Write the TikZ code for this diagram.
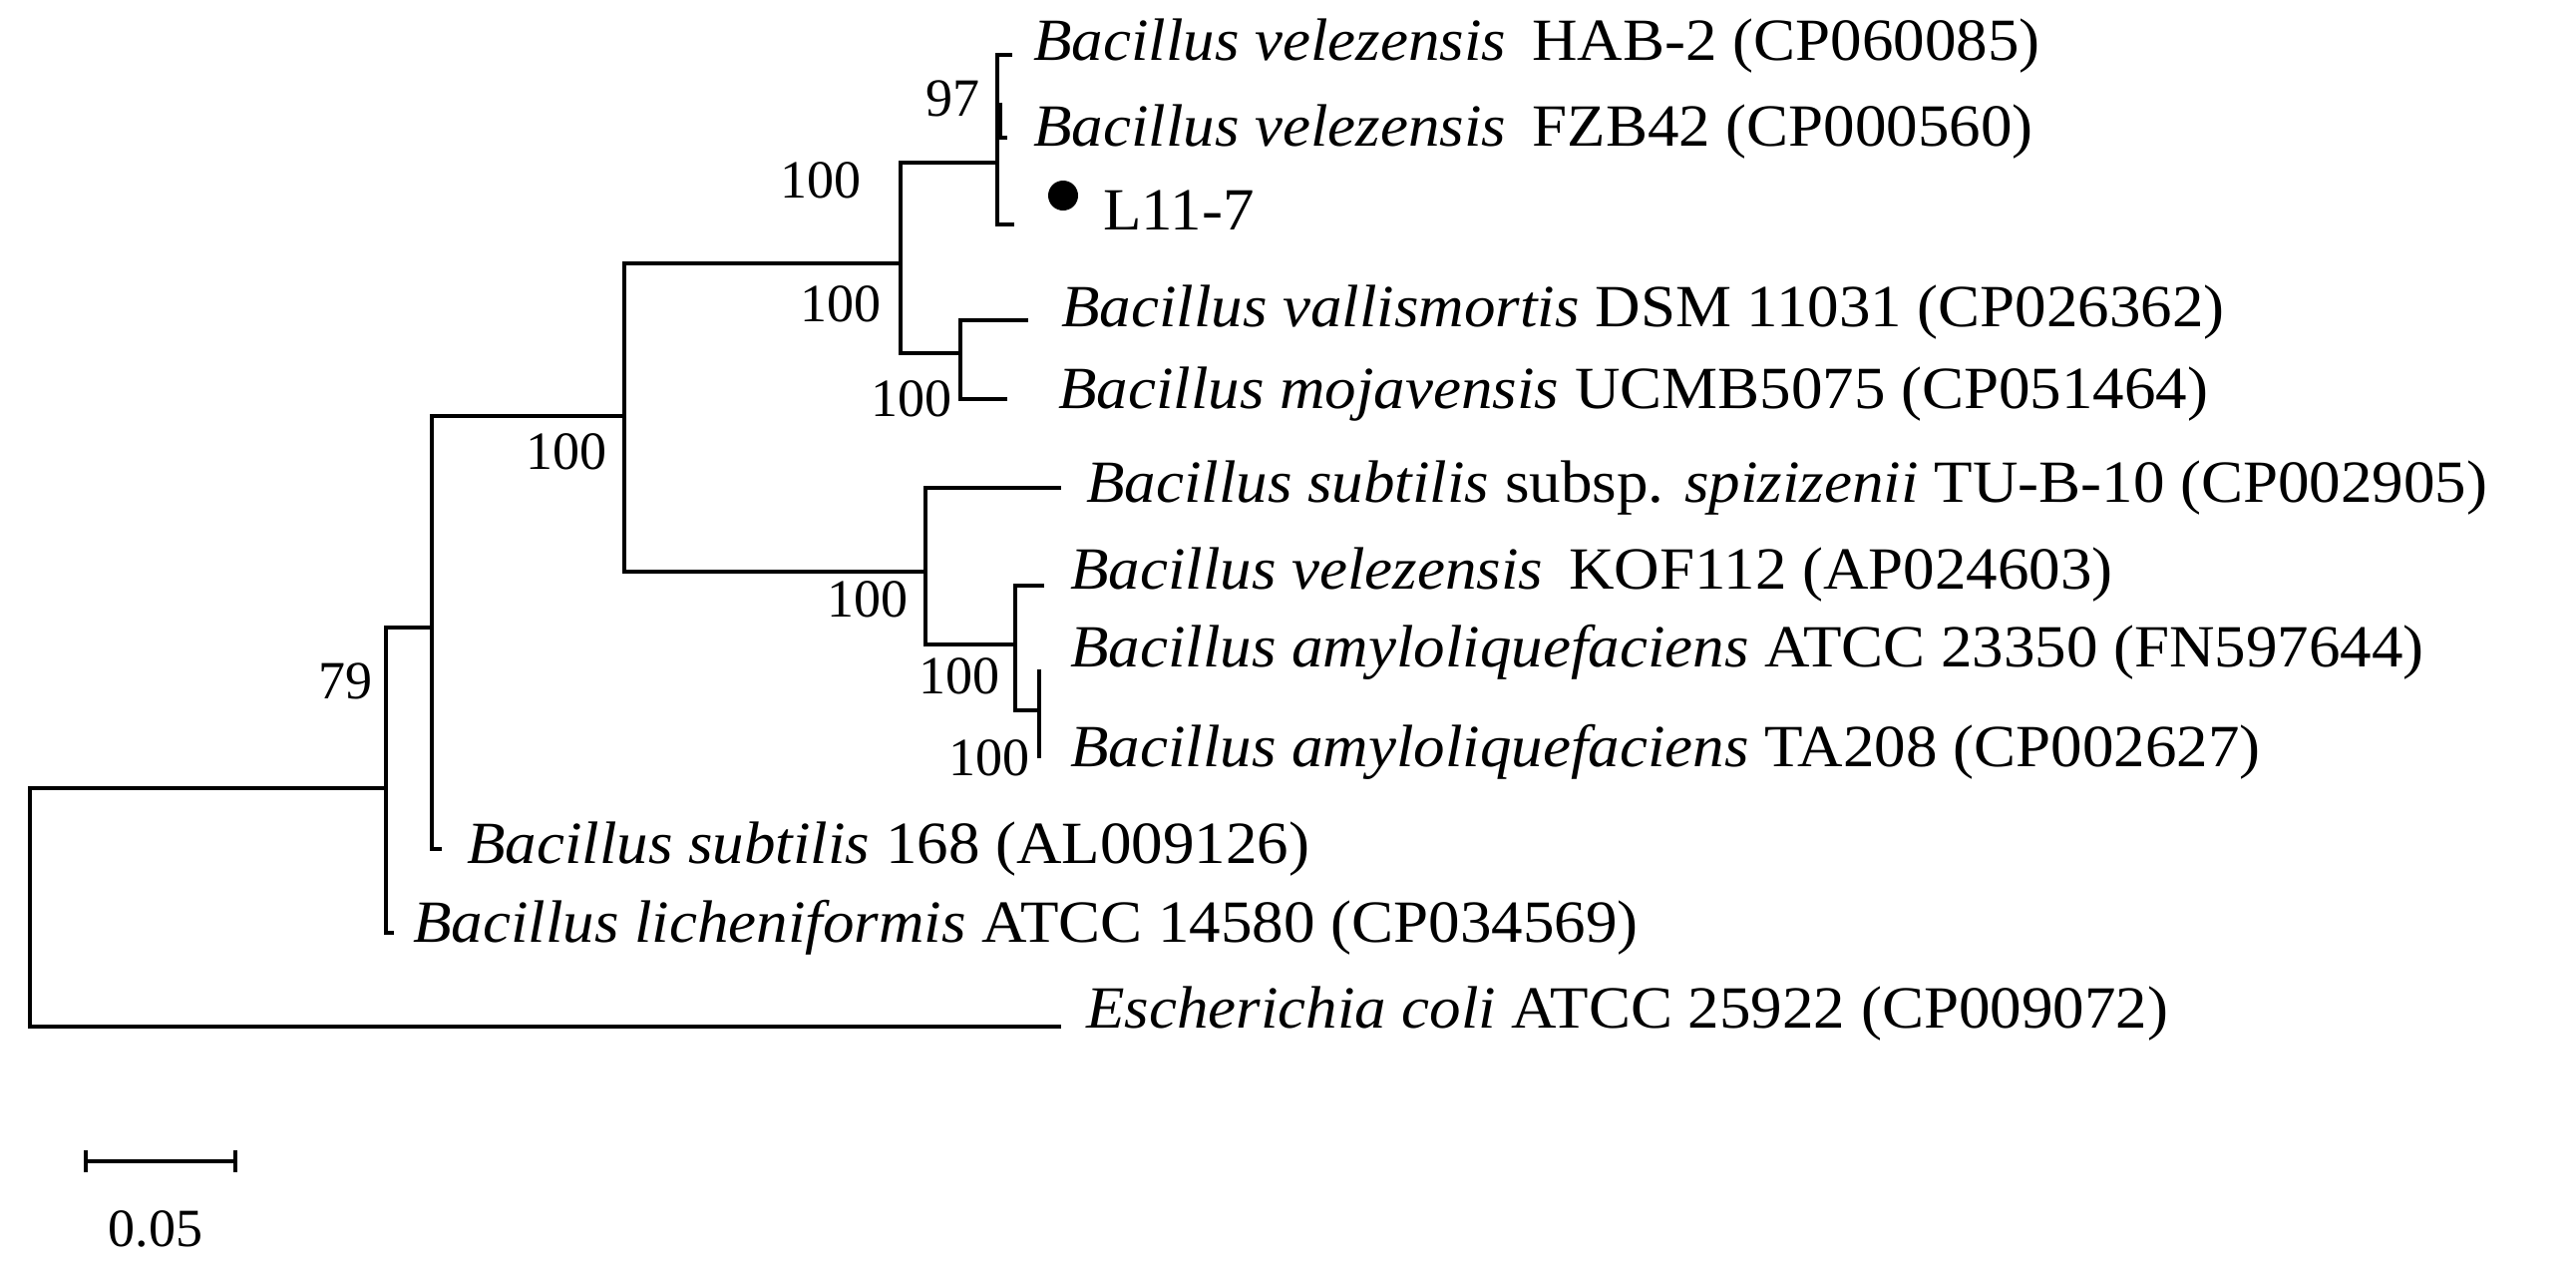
\documentclass[tikz,border=0pt]{standalone}
\usepackage{fontspec}
\setmainfont{Liberation Serif}
\begin{document}
\begin{tikzpicture}[x=1pt,y=-1pt,line width=4pt,line cap=rect,
  tx/.style={anchor=west,inner sep=0pt,font=\fontsize{60}{70}\selectfont,xscale=1.05},
  bs/.style={inner sep=0pt,font=\fontsize{54}{60}\selectfont}]
\useasboundingbox (0,0) rectangle (2583,1277);
% coordinates
\coordinate (r1) at (30,790); \coordinate (r2) at (30,1029);
\coordinate (a) at (387,790);
\coordinate (a1) at (387,629); \coordinate (a2) at (387,935);
\coordinate (b1) at (433,417); \coordinate (b2) at (433,851);
\coordinate (c1) at (626,264); \coordinate (c2) at (626,573);
\coordinate (d1) at (903,163); \coordinate (d2) at (903,354);
\coordinate (e1) at (1000,55); \coordinate (e2) at (1000,225);
\coordinate (f1) at (963,321); \coordinate (f2) at (963,400);
\coordinate (g1) at (928,489); \coordinate (g2) at (928,646);
\coordinate (h1) at (1018,587); \coordinate (h2) at (1018,712);
\coordinate (i1) at (1042,673); \coordinate (i2) at (1042,758);
% tips
\coordinate (tHAB) at (1013,55); \coordinate (tFZB) at (1008,138);
\coordinate (tL) at (1015,225);
\coordinate (tV) at (1029,321); \coordinate (tM) at (1008,400);
\coordinate (tT) at (1062,489); \coordinate (tK) at (1045,587);
\coordinate (tA) at (1046,673); \coordinate (tTA) at (1046,758);
\coordinate (t168) at (441,851); \coordinate (tLi) at (393,935);
\coordinate (tE) at (1062,1029);
% tree
\draw (r1) -- (r2);
\draw (r1) -- (a); \draw (r2) -- (tE);
\draw (a1) -- (a2); \draw (a2) -- (tLi);
\draw (a1) -- (433,629);
\draw (b1) -- (b2); \draw (b2) -- (t168);
\draw (b1) -- (626,417);
\draw (c1) -- (c2); \draw (c1) -- (903,264); \draw (c2) -- (928,573);
\draw (d1) -- (d2); \draw (d1) -- (1000,163); \draw (d2) -- (963,354);
\draw (e1) -- (e2); \draw (e1) -- (tHAB); \draw (e2) -- (tL);
\draw (1000,105) -- (1003,105) -- (1003,138) -- (tFZB);
\draw (f1) -- (f2); \draw (f1) -- (tV); \draw (f2) -- (tM);
\draw (g1) -- (g2); \draw (g1) -- (tT); \draw (g2) -- (1018,646);
\draw (h1) -- (h2); \draw (h1) -- (tK); \draw (h2) -- (1042,712);
\draw (i1) -- (i2);
% labels
\node[tx] (l1) at (1034,46) {\textit{Bacillus velezensis}\, HAB-2 (CP060085)};
\node[tx] (l2) at (1034,132) {\textit{Bacillus velezensis}\, FZB42 (CP000560)};
\fill (1066,196) circle (15);
\node[tx] (l3) at (1104,211) {L11-7};
\node[tx] (l4) at (1062,313) {\textit{Bacillus vallismortis} DSM 11031 (CP026362)};
\node[tx] (l5) at (1059,395) {\textit{Bacillus mojavensis} UCMB5075 (CP051464)};
\node[tx] (l6) at (1087,489) {\textit{Bacillus subtilis} subsp. \textit{spizizenii} TU-B-10 (CP002905)};
\node[tx] (l7) at (1071,576) {\textit{Bacillus velezensis}\, KOF112 (AP024603)};
\node[tx] (l8) at (1071,654) {\textit{Bacillus amyloliquefaciens} ATCC 23350 (FN597644)};
\node[tx] (l9) at (1071,754) {\textit{Bacillus amyloliquefaciens} TA208 (CP002627)};
\node[tx] (l10) at (466,851) {\textit{Bacillus subtilis} 168 (AL009126)};
\node[tx] (l11) at (412,930) {\textit{Bacillus licheniformis} ATCC 14580 (CP034569)};
\node[tx] (l12) at (1087,1016) {\textit{Escherichia coli} ATCC 25922 (CP009072)};
% bootstrap
\node[bs] (b97) at (955,99) {97};
\node[bs] (bb1) at (823,181) {100};
\node[bs] (bb2) at (843,305) {100};
\node[bs] (bb3) at (914,400) {100};
\node[bs] (bb4) at (568,453) {100};
\node[bs] (bb5) at (870,601) {100};
\node[bs] (bb6) at (962,678) {100};
\node[bs] (bb7) at (992,760) {100};
\node[bs] (b79) at (346,683) {79};
% scale
\coordinate (s1) at (86,1164); \coordinate (s2) at (236,1164);
\draw[line width=3.5pt,line cap=butt] (s1) -- (s2);
\draw[line width=3.5pt,line cap=butt] ([yshift=-11pt]s1) -- ([yshift=11pt]s1);
\draw[line width=3.5pt,line cap=butt] ([yshift=-11pt]s2) -- ([yshift=11pt]s2);
\node[bs] (sc) at (156,1232) {0.05};
\end{tikzpicture}
\end{document}
